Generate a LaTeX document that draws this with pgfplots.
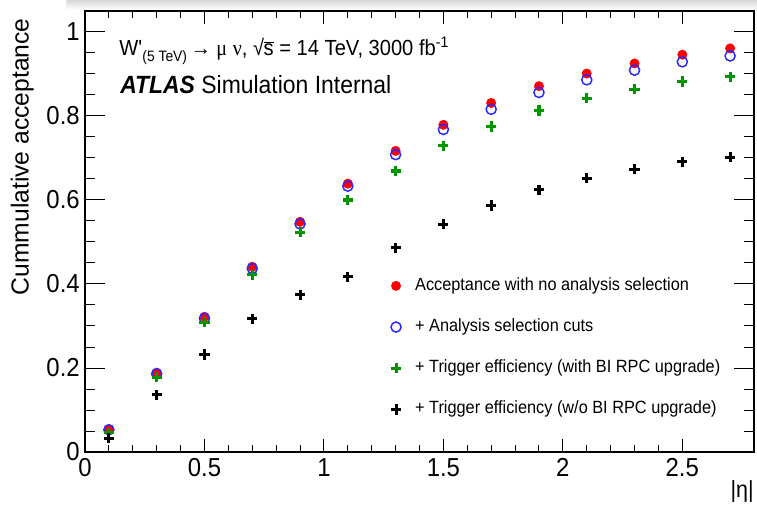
\documentclass[border=0pt]{standalone}
\usepackage{fontspec}
\setmainfont[FakeStretch=0.92]{Liberation Sans}
\newfontfamily\plainsans{Liberation Sans}
\newfontfamily\symfont[FakeStretch=0.92]{Liberation Serif}
\usepackage{pgfplots}
\usepackage{pgfplotstable}
\pgfplotsset{compat=1.18}

\definecolor{rootred}{RGB}{255,0,0}
\definecolor{rootblue}{RGB}{40,40,255}
\definecolor{rootgreen}{RGB}{0,150,0}

% cumulative acceptance vs |eta| for W'(5 TeV) -> mu nu
\pgfplotstableread{
eta  nosel  sel    trigBI trignoBI
0.1  0.054  0.053  0.046  0.033
0.3  0.189  0.186  0.178  0.136
0.5  0.322  0.318  0.309  0.232
0.7  0.441  0.437  0.422  0.317
0.9  0.548  0.543  0.523  0.374
1.1  0.639  0.633  0.600  0.417
1.3  0.717  0.708  0.669  0.486
1.5  0.779  0.768  0.729  0.542
1.7  0.831  0.816  0.775  0.587
1.9  0.871  0.856  0.813  0.624
2.1  0.901  0.886  0.842  0.652
2.3  0.925  0.909  0.864  0.673
2.5  0.946  0.929  0.882  0.691
2.7  0.961  0.943  0.893  0.702
}\acctable

\begin{document}
\begin{tikzpicture}
\useasboundingbox (0,0) rectangle (567.75pt,380.25pt);
\fill[white] (0,0) rectangle (567.75pt,380.25pt);
\shade[top color=black!16, bottom color=white] (50pt,373pt) rectangle (567.75pt,380.25pt);
\begin{axis}[
  at={(63.75pt,41.25pt)}, anchor=south west,
  scale only axis, width=501.75pt, height=330.75pt,
  xmin=0, xmax=2.8, ymin=0, ymax=1.05,
  axis line style={line width=0.9pt},
  xtick={0,0.5,...,2.5}, minor x tick num=4,
  ytick={0,0.2,0.4,0.6,0.8,1}, minor y tick num=3,
  tick align=inside, tick pos=both,
  xticklabel pos=left, yticklabel pos=left,
  every tick/.style={black, line width=0.75pt},
  xtick style={/pgfplots/major tick length=9.75pt, /pgfplots/minor tick length=5.25pt},
  ytick style={/pgfplots/major tick length=15pt, /pgfplots/minor tick length=7.5pt},
  /pgf/number format/assume math mode=true,
  xticklabel style={font=\fontsize{19.5}{21}\selectfont, inner sep=0pt, yshift=-4.5pt},
  yticklabel style={font=\fontsize{19.5}{21}\selectfont, inner sep=0pt, xshift=-3.75pt},
  xlabel={|η|},
  xlabel style={at={(rel axis cs:1,0)}, anchor=north east, yshift=-21pt, inner sep=0pt, font=\fontsize{17.5}{20}\selectfont},
  ylabel={Cummulative acceptance},
  ylabel style={at={(rel axis cs:-0.0762,0.984)}, anchor=south east, inner sep=0pt, font=\plainsans\fontsize{18.5}{20}\selectfont},
  legend style={at={(rel axis cs:0.451,0.402)}, anchor=north west, draw=none, fill=none,
    font=\fontsize{13.3}{15}\selectfont, row sep=18.6pt,
    nodes={text height=9.5pt, text depth=2.8pt, inner sep=0pt},
    /tikz/every odd column/.style={column sep=10.5pt}},
  legend cell align=left,
  clip=false,
]
\addplot[only marks, mark=*, mark size=3.5pt, color=rootred] table[x=eta, y=nosel] {\acctable};
\addlegendentry{Acceptance with no analysis selection}
\addplot[only marks, mark=o, mark size=3.8pt, line width=1.1pt, color=rootblue] table[x=eta, y=sel] {\acctable};
\addlegendentry{+ Analysis selection cuts}
\addplot[only marks, mark=+, mark size=3.8pt, line width=2.3pt, color=rootgreen] table[x=eta, y=trigBI] {\acctable};
\addlegendentry{+ Trigger efficiency (with BI RPC upgrade)}
\addplot[only marks, mark=+, mark size=3.8pt, line width=2.3pt, color=black] table[x=eta, y=trignoBI] {\acctable};
\addlegendentry{+ Trigger efficiency (w/o BI RPC upgrade)}
\end{axis}
\node[anchor=base west, inner sep=0pt, font=\fontsize{16.4}{19}\selectfont] at (89.25pt,338.25pt)
  {W\textquotesingle\raisebox{-0.45ex}{\fontsize{11.3}{13}\selectfont(5 TeV)}\,{\symfont →} {\symfont μ} {\symfont ν}, √\kern-0.3pt$\overline{\mbox{s}}$ = 14 TeV, 3000 fb\textsuperscript{-1}};
\node[anchor=base west, inner sep=0pt, font=\fontsize{18.7}{21}\selectfont] at (90pt,309.75pt)
  {\textbf{\textit{ATLAS}} Simulation Internal};
\end{tikzpicture}
\end{document}
